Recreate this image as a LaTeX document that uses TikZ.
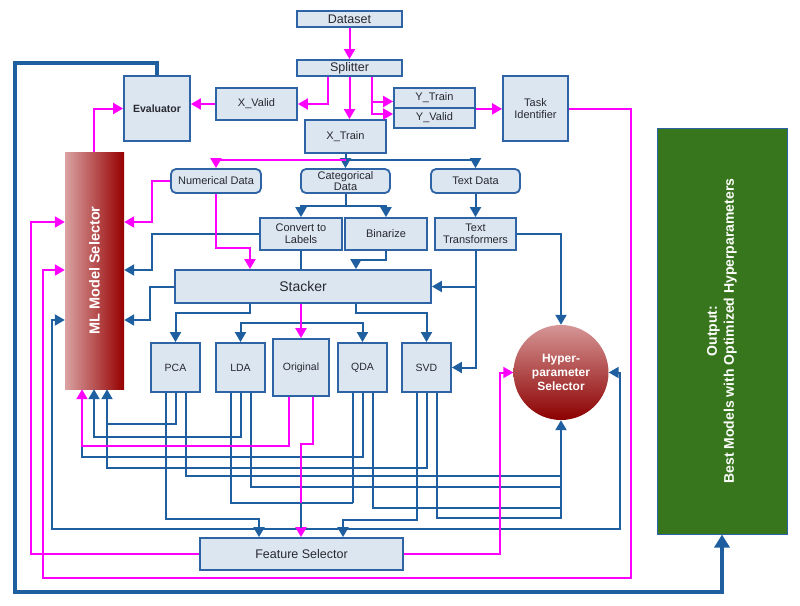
\documentclass[tikz,border=0pt]{standalone}
\usepackage{fontspec}
\setmainfont{Liberation Sans}
\usepackage{graphicx}
\usetikzlibrary{arrows.meta}
\definecolor{bordc}{RGB}{46,100,165}
\definecolor{boxf}{RGB}{220,230,241}
\definecolor{lnb}{RGB}{31,95,160}
\definecolor{mag}{RGB}{255,0,255}
\definecolor{txt}{RGB}{40,40,48}
\definecolor{mlL}{RGB}{218,162,162}
\definecolor{mlR}{RGB}{150,0,0}
\definecolor{hyT}{RGB}{214,150,150}
\definecolor{hyB}{RGB}{140,0,0}
\definecolor{outg}{RGB}{56,118,29}
\tikzset{
  box/.style={draw=bordc, fill=boxf, line width=1.8pt, inner sep=0pt, align=center, text=txt, font=\fontsize{11}{12}\selectfont},
  rbox/.style={box, rounded corners=5pt},
  bl/.style={draw=lnb, line width=2pt},
  mg/.style={draw=mag, line width=2pt},
  arr/.style={-{Triangle[length=10pt,width=11pt]}},
  arrboth/.style={{Triangle[length=10pt,width=11pt]}-{Triangle[length=10pt,width=11pt]}},
  thickbl/.style={draw=lnb, line width=3.5pt, -{Triangle[length=13pt,width=15pt]}},
}
\begin{document}
\begin{tikzpicture}[x=1pt,y=-1pt]
\useasboundingbox[fill=white] (0,0) rectangle (800,605);

% nodes
\node[box, minimum width=105, minimum height=16, font=\fontsize{12.5}{13}\selectfont] (ds) at (349.5,19) {Dataset};
\node[box, minimum width=105, minimum height=16, font=\fontsize{12.5}{13}\selectfont] (sp) at (349.5,68) {Splitter};
\node[box, minimum width=66, minimum height=65, font=\fontsize{10.5}{11.5}\selectfont\bfseries] (ev) at (157,108.5) {Evaluator};
\node[box, minimum width=81, minimum height=32] (xv) at (256.5,104) {X\_Valid};
\node[box, minimum width=81, minimum height=33] (xt) at (345.5,136.5) {X\_Train};
\node[box, minimum width=81, minimum height=20] (yt) at (434.5,98) {Y\_Train};
\node[box, minimum width=81, minimum height=20] (yv) at (434.5,118) {Y\_Valid};
\node[box, minimum width=65, minimum height=65] (ti) at (535.5,108.5) {Task\\Identifier};
\node[draw=bordc, line width=1pt, fill=outg, minimum width=130, minimum height=406, inner sep=0pt, text=white, font=\fontsize{14}{17}\selectfont\bfseries] (out) at (722,331)
  {\rotatebox{90}{\begin{tabular}{@{}c@{}}Output:\\Best Models with Optimized Hyperparameters\end{tabular}}};
\node[minimum width=59, minimum height=237, inner sep=0pt, left color=mlL, right color=mlR, text=white, font=\fontsize{14.5}{16}\selectfont\bfseries] (ml) at (94.5,270.5)
  {\rotatebox{90}{ML Model Selector}};

\node[rbox, minimum width=90, minimum height=24] (num) at (216,181) {Numerical Data};
\node[rbox, minimum width=89, minimum height=24, font=\fontsize{11}{11.5}\selectfont] (cat) at (345.5,181) {Categorical\\Data};
\node[rbox, minimum width=89, minimum height=24] (txd) at (475.5,181) {Text Data};
\node[box, minimum width=82, minimum height=32] (conv) at (301,234) {Convert to\\Labels};
\node[box, minimum width=82, minimum height=32] (bin) at (386,234) {Binarize};
\node[box, minimum width=81, minimum height=32] (tt) at (475.5,234) {Text\\Transformers};
\node[box, minimum width=256, minimum height=33, font=\fontsize{14}{15}\selectfont] (st) at (303,286.5) {Stacker};
\node[box, minimum width=49, minimum height=49, font=\fontsize{10.5}{11}\selectfont] (pca) at (175.5,367.5) {PCA};
\node[box, minimum width=49, minimum height=49, font=\fontsize{10.5}{11}\selectfont] (lda) at (240.5,367.5) {LDA};
\node[box, minimum width=56, minimum height=57, font=\fontsize{10.5}{11}\selectfont] (orig) at (301,367.5) {Original};
\node[box, minimum width=49, minimum height=49, font=\fontsize{10.5}{11}\selectfont] (qda) at (362.5,367.5) {QDA};
\node[box, minimum width=49, minimum height=49, font=\fontsize{10.5}{11}\selectfont] (svd) at (426.5,367.5) {SVD};
\node[circle, minimum size=95, inner sep=0pt, top color=hyT, bottom color=hyB, text=white, align=center, font=\fontsize{12}{14}\selectfont\bfseries] (hy) at (561,372.5) {Hyper-\\parameter\\Selector};
\node[box, minimum width=203, minimum height=32, font=\fontsize{12.5}{13}\selectfont] (fs) at (301.5,554) {Feature Selector};

% thick loop evaluator -> output
\draw[thickbl] (ev.north) |- (15,63) -- (15,592) -| (out.south);

% blue connectors
\draw[bl] (xt.south) -- (345.5,160);
\draw[bl,arr] (xt.south) -- (cat.north);
\draw[bl,arr] (345.5,160) -| (txd.north);
\draw[bl] (cat.south) -- (345.5,206);
\draw[bl,arr] (345.5,206) -| (conv.north);
\draw[bl,arr] (345.5,206) -| (bin.north);
\draw[bl,arr] (txd.south) -- (tt.north);
\draw[bl,arr] (conv.west) -| (152,270) -- (ml.east |- 0,270);
\draw[bl] (conv.south) -- (conv.south |- st.north);
\draw[bl,arr] (bin.south) |- (356,260) -- (356,0 |- st.north);
\draw[bl,arr] (tt.south) |- (st.east);
\draw[bl,arr] (tt.south) |- (svd.east);
\draw[bl,arr] (tt.east) -| (hy.north);
\draw[bl,arr] (st.west) -| (150,320) -- (ml.east |- 0,320);
\draw[bl,arr] (250,0 |- st.south) |- (175.5,313) -- (pca.north);
\draw[bl] (301,0 |- st.south) -- (301,323);
\draw[bl,arr] (301,323) -| (lda.north);
\draw[bl,arr] (301,323) -| (qda.north);
\draw[bl,arr] (356,0 |- st.south) |- (426.5,313) -- (svd.north);

% from transformers
\draw[bl,arr] (165.5,0 |- pca.south) |- (259,519) -- (259,0 |- fs.north);
\draw[bl,arr] (175.5,0 |- pca.south) |- (107,424) -- (107,0 |- ml.south);
\draw[bl] (185.5,0 |- pca.south) |- (561,476);
\draw[bl] (230.5,0 |- lda.south) |- (352.5,503);
\draw[bl] (352.5,0 |- qda.south) -- (352.5,503);
\draw[bl,arr] (240.5,0 |- lda.south) |- (94,437) -- (94,0 |- ml.south);
\draw[bl] (250.5,0 |- lda.south) |- (561,487);
\draw[bl] (362.5,0 |- qda.south) |- (82,457) -- (82,446);
\draw[bl] (372.5,0 |- qda.south) |- (561,508);
\draw[bl,arr] (416.5,0 |- svd.south) |- (343,520) -- (343,0 |- fs.north);
\draw[bl] (426.5,0 |- svd.south) |- (107,468) -- (107,424);
\draw[bl,arr] (436.5,0 |- svd.south) |- (561,518) -- (hy.south);
\draw[bl,arrboth] (hy.east) -- (620,372.5) -- (620,529) -- (52,529) -- (52,320) -- (ml.west |- 0,320);

% magenta connectors
\draw[mg,arr] (ds.south) -- (sp.north);
\draw[mg,arr] (328,0 |- sp.south) |- (xv.east);
\draw[mg,arr] (349.5,0 |- sp.south) -- (349.5,0 |- xt.north);
\draw[mg,arr] (371.5,0 |- sp.south) |- (yt.west |- 0,101.5);
\draw[mg,arr] (371.5,0 |- sp.south) |- (yv.west |- 0,114);
\draw[mg,arr] (xv.west) -- (ev.east |- xv.west);
\draw[mg,arr] (yt.south east) -- (ti.west |- yt.south east);
\draw[mg,arr] (ti.east) -- (631,108.5) -- (631,578) -- (43,578) -- (43,270) -- (ml.west |- 0,270);
\draw[mg,arr] (94,0 |- ml.north) |- (ev.west);
\draw[mg,arr] (345.5,160) -| (num.north);
\draw[mg,arr] (num.west) -| (152,222) -- (ml.east |- 0,222);
\draw[mg,arr] (num.south) |- (250,248) -- (250,0 |- st.north);
\draw[mg,arr] (301,0 |- st.south) -- (orig.north);
\draw[mg,arr] (289,0 |- orig.south) |- (82,446) -- (82,0 |- ml.south);
\draw[mg,arr] (312.5,0 |- orig.south) |- (301,444) -- (301,0 |- fs.north);
\draw[mg,arr] (fs.west) -| (31,222) -- (ml.west |- 0,222);
\draw[mg,arr] (fs.east) -| (499.5,372.5) -- (hy.west);
\draw[bl] (301,503) -- (301,528);
\end{tikzpicture}
\end{document}
